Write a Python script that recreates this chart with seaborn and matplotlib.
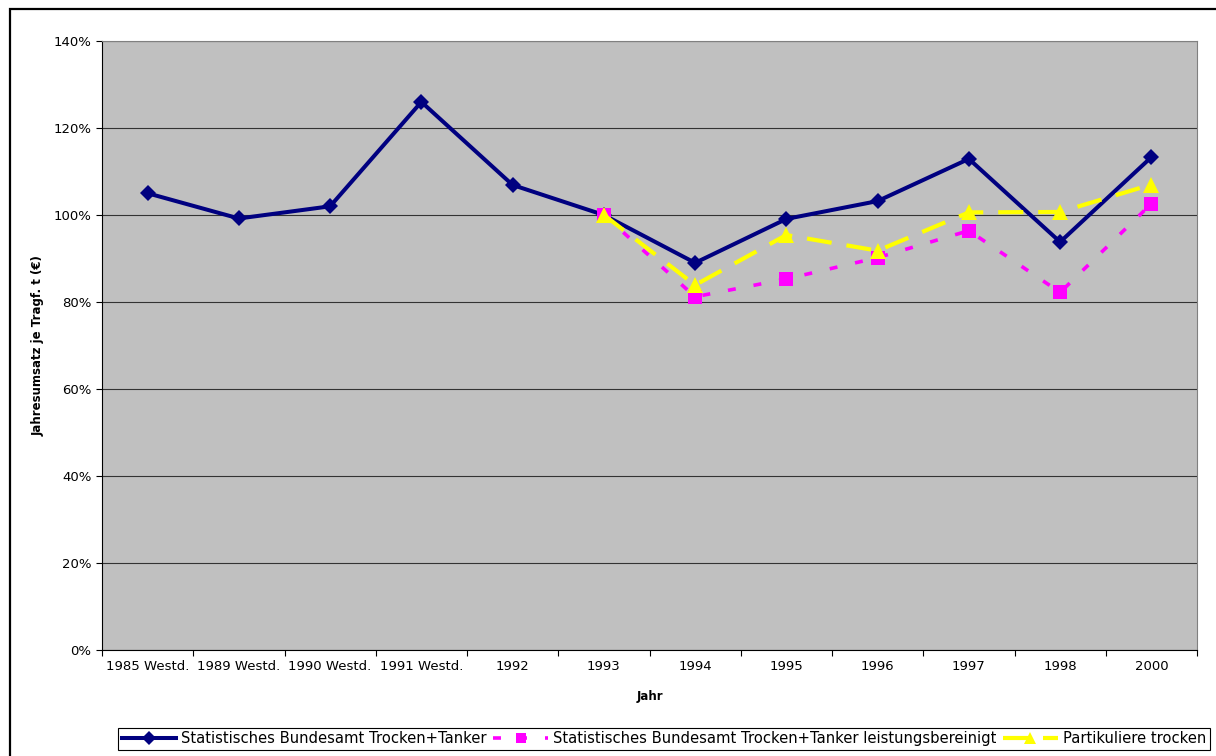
import numpy as np
import matplotlib
matplotlib.use("Agg")
import matplotlib.pyplot as plt
from matplotlib.patches import Rectangle
import seaborn as sns

# Categories on the x axis
jahre = ["1985 Westd.", "1989 Westd.", "1990 Westd.", "1991 Westd.", "1992",
         "1993", "1994", "1995", "1996", "1997", "1998", "2000"]

# Annual turnover per deadweight tonne, index in percent (1993 = 100 %)
bundesamt = [105.0, 99.2, 102.0, 126.0, 106.9, 100.0, 89.0, 99.1, 103.2, 112.9, 93.8, 113.3]
bundesamt_bereinigt = [np.nan, np.nan, np.nan, np.nan, np.nan,
                       100.0, 81.2, 85.3, 90.2, 96.4, 82.2, 102.6]
partikuliere = [np.nan, np.nan, np.nan, np.nan, np.nan,
                100.0, 83.9, 95.4, 91.8, 100.6, 100.7, 107.0]

serien = [
    "Statistisches Bundesamt Trocken+Tanker",
    "Statistisches Bundesamt Trocken+Tanker leistungsbereinigt",
    "Partikuliere trocken",
]

y_ticks = [0, 20, 40, 60, 80, 100, 120, 140]
y_labels = ["0%", "20%", "40%", "60%", "80%", "100%", "120%", "140%"]

W, H = 1216, 756
fig = plt.figure(figsize=(W / 100, H / 100), dpi=100)
fig.patch.set_facecolor("white")
ax = fig.add_axes([102 / W, 106 / H, 1095 / W, 609 / H])
ax.set_facecolor("#C0C0C0")

pos = np.arange(len(jahre))

sns.lineplot(x=pos, y=bundesamt, ax=ax, color="#000080", linewidth=2.9,
             marker="D", markersize=8.6, markeredgewidth=0,
             label=serien[0], zorder=3)
sns.lineplot(x=pos, y=bundesamt_bereinigt, ax=ax, color="#FF00FF", linewidth=2.6,
             linestyle=(0, (2.2, 5.0)), marker="s", markersize=9.6,
             markeredgewidth=0, label=serien[1], zorder=4)
sns.lineplot(x=pos, y=partikuliere, ax=ax, color="#FFFF00", linewidth=3.0,
             linestyle=(0, (6.0, 3.6)), marker="^", markersize=11.5,
             markeredgewidth=0, label=serien[2], zorder=5)

# Axes limits, grid and ticks
ax.set_xlim(-0.5, len(jahre) - 0.5)
ax.set_ylim(0, 140)
ax.set_yticks(y_ticks)
ax.set_yticklabels(y_labels)
ax.yaxis.grid(True, color="#333333", linewidth=0.8, zorder=1)
ax.xaxis.grid(False)
ax.set_axisbelow(True)

ax.set_xticks(pos)
ax.set_xticklabels(jahre)
ax.set_xticks(np.arange(len(jahre) + 1) - 0.5, minor=True)
ax.tick_params(axis="x", which="major", length=0, pad=7.5, labelsize=9.5, colors="black")
ax.tick_params(axis="x", which="minor", length=4, width=0.8, direction="out", color="black")
ax.tick_params(axis="y", which="major", length=4, width=0.8, direction="out",
               pad=3.5, labelsize=9.5, colors="black")

for side in ("left", "bottom"):
    ax.spines[side].set_color("black")
    ax.spines[side].set_linewidth(0.8)
for side in ("top", "right"):
    ax.spines[side].set_color("#808080")
    ax.spines[side].set_linewidth(0.8)

ax.set_xlabel("Jahr", fontsize=8.5, fontweight="bold")
ax.xaxis.set_label_coords(0.5, -0.066)
ax.set_ylabel("Jahresumsatz je Tragf. t (€)", fontsize=8.5, fontweight="bold")
ax.yaxis.set_label_coords(-0.052, 0.5)

# Legend in one row below the plot
handles, labels = ax.get_legend_handles_labels()
ax.get_legend().remove()
leg = fig.legend(handles, labels, loc="lower left",
                 bbox_to_anchor=(118 / W, 1 - 750 / H),
                 ncol=3, fontsize=10.6, frameon=True, fancybox=False,
                 edgecolor="black", framealpha=1, handlelength=3.7,
                 handletextpad=0.35, columnspacing=0.45, borderpad=0.25,
                 borderaxespad=0, numpoints=1, markerscale=0.8)
leg.get_frame().set_linewidth(0.8)

# Outer chart frame
fig.patches.append(Rectangle((10 / W, -0.2), 1.2, 1 - 9 / H + 0.2,
                             transform=fig.transFigure, fill=False,
                             edgecolor="black", linewidth=1.6, zorder=0))

fig.savefig("out.png", dpi=100)
